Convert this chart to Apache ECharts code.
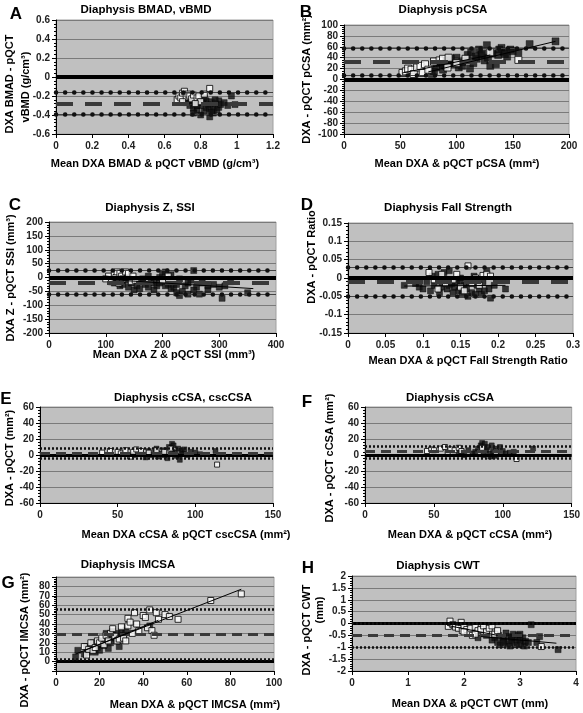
<!DOCTYPE html>
<html><head><meta charset="utf-8">
<script src="https://cdn.jsdelivr.net/npm/echarts@6/dist/echarts.min.js"></script>
<style>html,body{margin:0;padding:0;background:#fff}#c{width:583px;height:713px}</style>
</head><body><div id="c"></div>
<script>
// ---------- DATA ----------
// reference lines: [mean bias, upper limit, lower limit]
const A_lines = [-0.28, -0.16, -0.39];
const B_lines = [33, 58, 7];
const C_lines = [-18, 27, -62];
const D_lines = [-0.012, 0.026, -0.047];
const E_lines = [2, 9, -4];
const F_lines = [4.5, 11, -4];
const G_lines = [29, 56, 2];
const H_lines = [-0.48, 0.02, -0.98];

// axis ranges [min, max, interval]
const A_x = [0, 1.2, 0.2], A_y = [-0.6, 0.6, 0.2];
const B_x = [0, 200, 50], B_y = [-100, 100, 20];
const C_x = [0, 400, 100], C_y = [-200, 200, 50];
const D_x = [0, 0.3, 0.05], D_y = [-0.15, 0.15, 0.05];
const E_x = [0, 150, 50], E_y = [-60, 60, 20];
const F_x = [0, 150, 50], F_y = [-60, 60, 20];
const G_x = [0, 100, 20], G_y = [-10, 90, 10];
const H_x = [0, 4, 1], H_y = [-2, 2, 0.5];

const A_black = [[0.72,-0.27],[0.74,-0.3],[0.75,-0.25],[0.76,-0.33],[0.77,-0.28],[0.78,-0.35],[0.79,-0.24],[0.8,-0.4],[0.8,-0.3],[0.81,-0.27],[0.82,-0.36],[0.83,-0.25],[0.83,-0.32],[0.84,-0.29],[0.85,-0.42],[0.85,-0.34],[0.86,-0.26],[0.87,-0.31],[0.87,-0.38],[0.88,-0.28],[0.89,-0.35],[0.9,-0.25],[0.9,-0.32],[0.91,-0.29],[0.93,-0.27],[0.95,-0.3],[0.97,-0.2],[0.99,-0.29],[0.78,-0.3],[0.82,-0.22],[0.86,-0.37],[0.88,-0.24],[0.76,-0.38],[0.73,-0.25]];
const A_white = [[0.67,-0.24],[0.68,-0.2],[0.69,-0.22],[0.7,-0.17],[0.71,-0.15],[0.72,-0.21],[0.73,-0.18],[0.74,-0.2],[0.75,-0.23],[0.76,-0.19],[0.78,-0.22],[0.79,-0.2],[0.8,-0.26],[0.82,-0.18],[0.85,-0.12],[0.7,-0.26],[0.77,-0.28]];
const A_fitBlack = [], A_fitWhite = [];

const B_black = [[78,10],[80,15],[82,22],[85,30],[88,18],[90,25],[92,35],[95,30],[98,28],[100,40],[102,22],[105,25],[108,35],[110,45],[112,20],[113,50],[115,30],[118,38],[120,55],[122,45],[125,35],[127,63],[128,40],[130,25],[132,48],[135,28],[137,45],[140,58],[142,50],[145,42],[148,55],[150,52],[155,50],[165,65],[188,70],[117,42],[123,48],[138,55],[143,47],[105,32],[95,38],[88,28]];
const B_white = [[52,12],[55,15],[57,20],[60,18],[62,10],[65,22],[68,25],[70,12],[72,28],[75,18],[80,33],[85,35],[88,38],[92,22],[93,40],[100,30],[108,38],[130,50],[155,36]];
const B_fitBlack = [[75,14],[188,70]];
const B_fitWhite = [[52,12],[130,45]];

const C_black = [[110,-5],[115,-20],[120,-15],[125,-30],[130,-25],[135,-10],[140,-35],[145,-20],[150,-45],[155,-30],[160,-40],[165,-15],[170,-25],[175,-35],[180,-10],[185,-20],[190,-30],[195,0],[200,-15],[200,15],[205,20],[210,-25],[215,-40],[220,-35],[225,-55],[230,-65],[235,-50],[240,-30],[245,-20],[250,-10],[255,25],[260,-35],[265,-60],[270,-20],[280,-45],[290,-25],[300,-35],[305,-75],[310,-30],[320,-15],[350,-55],[185,-45],[175,5],[245,-60],[215,10],[230,-5],[165,-5],[255,-45],[205,-30],[195,-20],[280,-30],[225,-25]];
const C_white = [[100,-5],[105,5],[110,-15],[115,10],[118,0],[120,20],[123,-20],[125,15],[128,5],[130,-5],[135,20],[140,15],[145,-15],[148,5],[152,-10],[200,-10],[210,5]];
const C_fitBlack = [[110,-8],[360,-40]];
const C_fitWhite = [[100,5],[155,-8]];

const D_black = [[0.075,-0.02],[0.09,-0.015],[0.095,-0.025],[0.1,-0.03],[0.105,-0.01],[0.11,-0.035],[0.112,0.005],[0.115,-0.02],[0.12,0.01],[0.122,-0.04],[0.125,-0.025],[0.128,0.015],[0.13,-0.005],[0.132,-0.03],[0.135,0.02],[0.138,-0.015],[0.14,-0.04],[0.142,-0.025],[0.145,-0.01],[0.148,-0.035],[0.15,0.0],[0.152,-0.045],[0.155,-0.02],[0.158,-0.03],[0.16,-0.05],[0.162,-0.01],[0.165,-0.04],[0.168,0.005],[0.17,-0.045],[0.172,-0.02],[0.175,-0.03],[0.178,-0.045],[0.18,-0.01],[0.182,-0.035],[0.185,0.02],[0.188,-0.03],[0.19,-0.055],[0.195,-0.02],[0.21,-0.03],[0.15,-0.015],[0.135,-0.02]];
const D_white = [[0.108,0.015],[0.115,-0.005],[0.12,-0.03],[0.125,0.01],[0.13,-0.015],[0.14,-0.005],[0.145,0.01],[0.15,-0.025],[0.155,-0.035],[0.16,0.033],[0.165,-0.015],[0.17,0.0],[0.175,-0.02],[0.18,0.007],[0.185,0.01],[0.19,0.005]];
const D_fitBlack = [[0.075,-0.022],[0.21,-0.02]];
const D_fitWhite = [];

const E_black = [[60,0],[65,2],[68,-3],[70,5],[72,0],[74,3],[75,8],[76,-2],[78,2],[80,6],[82,-4],[83,10],[85,14],[86,12],[87,3],[88,-1],[89,8],[90,-6],[91,5],[92,2],[93,7],[95,0],[97,4],[100,3],[103,1],[113,5],[80,0],[85,4]];
const E_white = [[40,3],[45,5],[50,4],[52,2],[55,6],[58,-2],[60,4],[62,7],[65,5],[70,3],[75,6],[80,4],[84,8],[114,-12]];
const E_fitBlack = [], E_fitWhite = [];

const F_black = [[68,3],[70,5],[72,0],[75,6],[78,2],[80,4],[82,8],[84,12],[85,15],[87,14],[88,6],[89,10],[90,2],[91,-2],[92,12],[93,5],[95,8],[96,3],[98,10],[100,5],[102,2],[105,3],[108,4],[122,8],[86,0],[94,-1]];
const F_white = [[45,5],[48,7],[50,6],[55,8],[58,10],[60,4],[62,7],[65,6],[68,9],[70,5],[85,9],[95,4],[110,-5]];
const F_fitBlack = [], F_fitWhite = [];

const G_black = [[9,5],[10,12],[13,8],[14,16],[15,10],[16,13],[17,20],[18,10],[19,15],[20,18],[21,22],[22,17],[23,30],[24,14],[25,20],[26,32],[27,25],[28,30],[29,16],[30,32],[31,28],[32,33],[43,38],[20,12],[24,26],[28,22]];
const G_white = [[13,16],[14,7],[15,13],[16,20],[17,12],[18,15],[19,22],[20,20],[21,25],[22,18],[23,28],[24,22],[25,30],[26,35],[27,27],[28,22],[29,24],[30,37],[31,25],[32,22],[33,46],[33,38],[34,42],[35,30],[36,52],[37,40],[38,33],[40,49],[41,47],[42,36],[43,55],[44,33],[45,28],[46,52],[47,45],[50,50],[52,48],[56,45],[71,65],[85,72]];
const G_fitBlack = [[9,8],[47,44]];
const G_fitWhite = [[13,12],[85,77]];

const H_black = [[2.25,-0.6],[2.4,-0.5],[2.5,-0.7],[2.55,-0.6],[2.6,-0.8],[2.62,-0.5],[2.65,-0.9],[2.7,-0.6],[2.72,-0.75],[2.75,-0.4],[2.78,-0.85],[2.8,-0.55],[2.82,-0.95],[2.85,-0.7],[2.88,-0.45],[2.9,-0.8],[2.92,-0.6],[2.95,-0.9],[2.97,-0.5],[3.0,-0.7],[3.02,-0.85],[3.05,-0.6],[3.08,-0.95],[3.1,-0.75],[3.15,-0.8],[3.2,-0.05],[3.3,-0.8],[3.35,-0.55],[3.68,-1.1],[2.7,-0.8],[2.85,-0.6],[3.0,-0.45]];
const H_white = [[1.72,-0.12],[1.75,0.1],[1.8,-0.05],[1.85,-0.15],[1.9,-0.2],[1.95,0.05],[1.97,-0.3],[2.0,-0.1],[2.05,-0.25],[2.1,-0.4],[2.12,-0.2],[2.15,-0.5],[2.2,-0.15],[2.25,-0.3],[2.3,-0.25],[2.35,-0.1],[2.4,-0.35],[2.45,-0.2],[2.5,-0.1],[2.55,-0.45],[2.6,-0.3],[3.38,-0.97],[2.2,-0.45],[2.0,-0.35]];
const H_fitBlack = [[2.3,-0.55],[3.65,-0.83]];
const H_fitWhite = [[1.7,-0.08],[2.6,-0.5]];

// ---------- LAYOUT ----------
const FONT = '"Liberation Sans", Arial, sans-serif';
const panels = [
  {g:{left:56,top:20,width:217,height:114}, x:A_x, y:A_y, lines:A_lines, black:A_black, white:A_white, fb:A_fitBlack, fw:A_fitWhite, big:true, sym:6},
  {g:{left:344,top:25,width:225,height:109}, x:B_x, y:B_y, lines:B_lines, black:B_black, white:B_white, fb:B_fitBlack, fw:B_fitWhite, big:true, sym:7},
  {g:{left:49,top:222,width:227,height:111}, x:C_x, y:C_y, lines:C_lines, black:C_black, white:C_white, fb:C_fitBlack, fw:C_fitWhite, big:true, sym:6},
  {g:{left:348,top:223,width:225,height:110}, x:D_x, y:D_y, lines:D_lines, black:D_black, white:D_white, fb:D_fitBlack, fw:D_fitWhite, big:true, sym:6},
  {g:{left:40,top:407,width:233,height:96}, x:E_x, y:E_y, lines:E_lines, black:E_black, white:E_white, fb:E_fitBlack, fw:E_fitWhite, big:false, sym:5},
  {g:{left:365,top:407,width:207,height:96}, x:F_x, y:F_y, lines:F_lines, black:F_black, white:F_white, fb:F_fitBlack, fw:F_fitWhite, big:false, sym:5},
  {g:{left:56,top:577,width:218,height:94}, x:G_x, y:G_y, lines:G_lines, black:G_black, white:G_white, fb:G_fitBlack, fw:G_fitWhite, big:false, sym:6},
  {g:{left:352,top:576,width:224,height:95}, x:H_x, y:H_y, lines:H_lines, black:H_black, white:H_white, fb:H_fitBlack, fw:H_fitWhite, big:false, sym:6}
];

const grid = [], xAxis = [], yAxis = [], series = [];
panels.forEach((p, i) => {
  grid.push(Object.assign({show:true, backgroundColor:'#c0c0c0', borderColor:'#a0a0a0', borderWidth:1}, p.g));
  const lab = {color:'#222', fontSize:10, fontWeight:'bold', fontFamily:FONT};
  xAxis.push({gridIndex:i, type:'value', min:p.x[0], max:p.x[1], interval:p.x[2],
    axisLine:{onZero:false, lineStyle:{color:'#000', width:1}},
    axisTick:{show:true, length:4, lineStyle:{color:'#000'}},
    splitLine:{show:false}, axisLabel:Object.assign({margin:7}, lab)});
  yAxis.push({gridIndex:i, type:'value', min:p.y[0], max:p.y[1], interval:p.y[2],
    axisLine:{show:true, onZero:false, lineStyle:{color:'#000', width:1}},
    axisTick:{show:true, length:4, lineStyle:{color:'#000'}},
    minorTick:{show:true, splitNumber:5, length:2, lineStyle:{color:'#000'}},
    splitLine:{show:true, lineStyle:{color:'#7a7a7a', width:1}},
    axisLabel:Object.assign({margin:6}, lab)});
  const [mean, up, lo] = p.lines;
  const dotStyle = p.big
    ? {color:'#111', width:4.5, type:[0.1, 9], cap:'round'}
    : {color:'#111', width:2.5, type:[2, 2]};
  const mlData = [
    {yAxis:0, lineStyle:{color:'#000', width:p.big ? 4 : 3, type:'solid'}},
    {yAxis:mean, lineStyle: p.big ? {color:'#3a3a3a', width:4, type:[17, 12]} : {color:'#3a3a3a', width:3, type:[10, 6]}},
    {yAxis:up, lineStyle:dotStyle},
    {yAxis:lo, lineStyle:dotStyle}
  ];
  if (p.big) {
    mlData.splice(2, 0, {yAxis:up, lineStyle:{color:'#444', width:1, type:'solid'}}, {yAxis:lo, lineStyle:{color:'#444', width:1, type:'solid'}});
  }
  series.push({type:'scatter', xAxisIndex:i, yAxisIndex:i, data:[], z:1, silent:true,
    markLine:{silent:true, symbol:'none', label:{show:false}, animation:false, data:mlData}});
  series.push({type:'scatter', name:'black', xAxisIndex:i, yAxisIndex:i, data:p.black, symbol:'rect', symbolSize:p.sym,
    itemStyle:{color:'#111', borderColor:'#000', borderWidth:0.5}, z:3});
  series.push({type:'scatter', name:'white', xAxisIndex:i, yAxisIndex:i, data:p.white, symbol:'rect', symbolSize:p.sym,
    itemStyle:{color:'#fff', borderColor:'#000', borderWidth:1}, z:4});
  if (p.fb.length) series.push({type:'line', xAxisIndex:i, yAxisIndex:i, data:p.fb, symbol:'none', lineStyle:{color:'#000', width:1}, z:5});
  if (p.fw.length) series.push({type:'line', xAxisIndex:i, yAxisIndex:i, data:p.fw, symbol:'none', lineStyle:{color:'#000', width:1}, z:5});
});

function t(text, x, y, size, rot, align) {
  return {type:'text', x:x, y:y, rotation:rot ? Math.PI/2 : 0, z:10,
    style:{text:text, fill:'#000', fontSize:size, fontWeight:'bold', fontFamily:FONT,
      align:align || 'center', verticalAlign:'middle', textAlign:align || 'center', textVerticalAlign:'middle'}};
}
const TS = 11.5;
const graphics = [
  // panel letters
  t('A', 16, 14, 17), t('B', 306, 12, 17), t('C', 15, 205, 17), t('D', 307, 205, 17),
  t('E', 6, 399, 17), t('F', 307, 402, 17), t('G', 8, 583, 17), t('H', 308, 568, 17),
  // titles
  t('Diaphysis BMAD, vBMD', 146, 10, TS), t('Diaphysis pCSA', 443, 10, TS),
  t('Diaphysis Z, SSI', 150, 208, TS), t('Diaphysis Fall Strength', 448, 208, TS),
  t('Diaphysis cCSA, cscCSA', 183, 398, TS), t('Diaphysis cCSA', 450, 398, TS),
  t('Diaphysis IMCSA', 128, 565, TS), t('Diaphysis CWT', 438, 566, TS),
  // x axis names
  t('Mean DXA BMAD & pQCT vBMD (g/cm³)', 155, 164, 11), t('Mean DXA & pQCT pCSA (mm²)', 457, 164, 11),
  t('Mean DXA Z & pQCT SSI (mm³)', 174, 355, 11), t('Mean DXA & pQCT Fall Strength Ratio', 468, 361, 11),
  t('Mean DXA cCSA & pQCT cscCSA (mm²)', 186, 535, 11), t('Mean DXA & pQCT cCSA (mm²)', 470, 535, 11),
  t('Mean DXA & pQCT IMCSA (mm²)', 195, 705, 11), t('Mean DXA & pQCT CWT (mm)', 470, 704, 11),
  // y axis names
  t('DXA BMAD - pQCT', 10, 84, 11, true), t('vBMD (g/cm³)', 26, 87, 11, true),
  t('DXA - pQCT pCSA (mm²)', 307, 79, 11, true),
  t('DXA Z - pQCT SSI (mm³)', 11, 278, 11, true),
  t('DXA - pQCT Ratio', 312, 257, 11, true),
  t('DXA - pQCT (mm²)', 10, 458, 11, true),
  t('DXA - pQCT cCSA (mm²)', 330, 458, 11, true),
  t('DXA - pQCT IMCSA (mm²)', 25, 640, 11, true),
  t('DXA - pQCT CWT', 307, 630, 11, true), t('(mm)', 320, 610, 11, true)
];

const chart = echarts.init(document.getElementById('c'), null, {renderer:'canvas'});
chart.setOption({animation:false, backgroundColor:'#fff', grid, xAxis, yAxis, series, graphic:graphics});
</script></body></html>
